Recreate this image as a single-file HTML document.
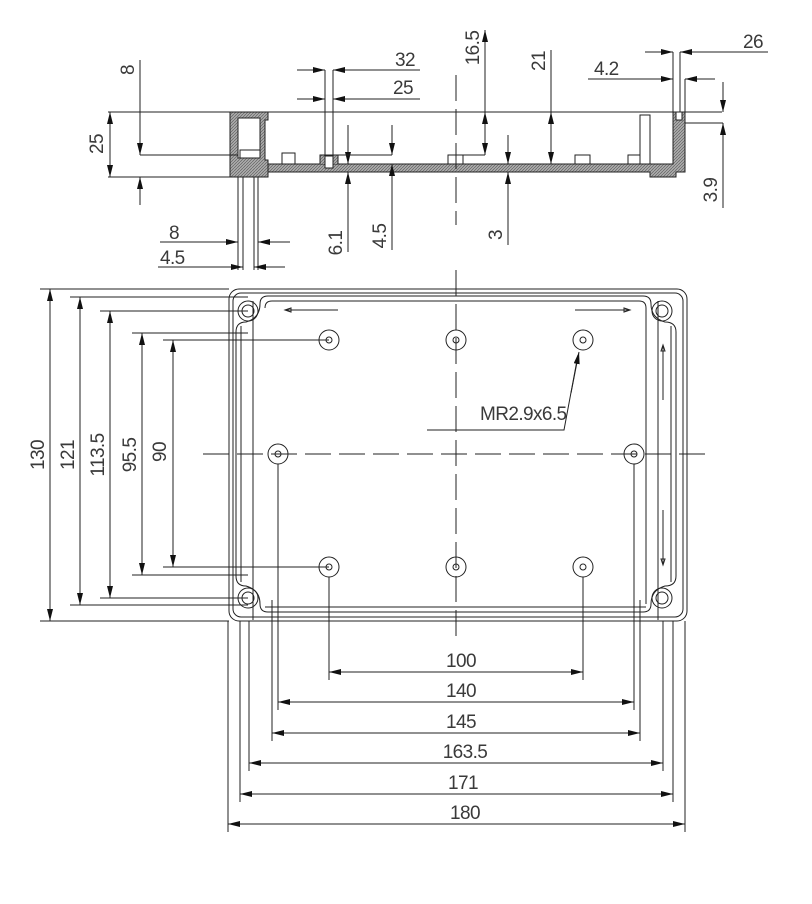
<!DOCTYPE html>
<html><head><style>
html,body{margin:0;padding:0;background:#fff;}
svg{display:block;}
text{font-family:"Liberation Sans",sans-serif;font-size:19px;fill:#3a3a3a;letter-spacing:-0.6px;}
</style></head><body>
<svg width="812" height="904" viewBox="0 0 812 904" xmlns="http://www.w3.org/2000/svg">
<defs>
<marker id="a" viewBox="0 0 12 6" refX="12" refY="3" markerWidth="12" markerHeight="6" markerUnits="userSpaceOnUse" orient="auto-start-reverse"><path d="M0,0 L12,3 L0,6 Z" fill="#111"/></marker>
<pattern id="h" width="3" height="3" patternUnits="userSpaceOnUse"><rect width="3" height="3" fill="#aaa"/><path d="M0,3 L3,0" stroke="#555" stroke-width="0.6"/></pattern>
</defs>
<g stroke="#222" stroke-width="1" fill="none">
<line x1="108" y1="112" x2="722" y2="112"/>
<line x1="108" y1="177" x2="230" y2="177"/>
<path d="M230,112 L268,112 L268,120 L265,120 L265,160 L268,160 L268,177 L230,177 Z" fill="url(#h)"/>
<rect x="238" y="118" width="22" height="40" fill="#fff"/>
<rect x="240" y="150" width="20" height="8" fill="#fff"/>
<path d="M268,164 L673,164 L673,112 L685,112 L685,172 L676,172 L676,177 L650,177 L650,172 L268,172 Z" fill="url(#h)"/>
<rect x="676" y="112" width="6" height="8" fill="#fff"/>
<rect x="282" y="153" width="13" height="11" fill="#fff"/>
<path d="M320,164 L320,155 L338,155 L338,164" fill="url(#h)"/>
<rect x="325" y="156" width="8" height="12" fill="#fff"/>
<rect x="448" y="155" width="15" height="9" fill="#fff"/>
<rect x="575" y="155" width="15" height="9" fill="#fff"/>
<rect x="628" y="155" width="12" height="9" fill="#fff"/>
<path d="M640,164 L640,115 L650,115 L650,164"/>
<line x1="238" y1="177" x2="238" y2="270"/><line x1="258" y1="177" x2="258" y2="270"/>
<line x1="243" y1="177" x2="243" y2="270"/><line x1="254" y1="177" x2="254" y2="270"/>
<line x1="110" y1="112" x2="110" y2="177" marker-start="url(#a)" marker-end="url(#a)"/>
<line x1="140" y1="60" x2="140" y2="155" marker-end="url(#a)"/>
<line x1="140" y1="205" x2="140" y2="177" marker-end="url(#a)"/>
<line x1="140" y1="155" x2="238" y2="155"/>
<line x1="160" y1="242" x2="238" y2="242" marker-end="url(#a)"/>
<line x1="290" y1="242" x2="258" y2="242" marker-end="url(#a)"/>
<line x1="158" y1="267" x2="243" y2="267" marker-end="url(#a)"/>
<line x1="285" y1="267" x2="254" y2="267" marker-end="url(#a)"/>
<line x1="325" y1="70" x2="325" y2="156"/><line x1="333" y1="70" x2="333" y2="156"/>
<line x1="297" y1="70" x2="325" y2="70" marker-end="url(#a)"/>
<line x1="420" y1="70" x2="333" y2="70" marker-end="url(#a)"/>
<line x1="297" y1="99" x2="325" y2="99" marker-end="url(#a)"/>
<line x1="420" y1="99" x2="333" y2="99" marker-end="url(#a)"/>
<line x1="348" y1="125" x2="348" y2="164" marker-end="url(#a)"/>
<line x1="348" y1="252" x2="348" y2="172" marker-end="url(#a)"/>
<line x1="392" y1="125" x2="392" y2="155" marker-end="url(#a)"/>
<line x1="392" y1="250" x2="392" y2="164" marker-end="url(#a)"/>
<line x1="338" y1="155" x2="392" y2="155"/>
<line x1="485" y1="30" x2="485" y2="155" marker-start="url(#a)"/>
<line x1="485" y1="112" x2="485" y2="155" marker-start="url(#a)" marker-end="url(#a)"/>
<line x1="463" y1="155" x2="485" y2="155"/>
<line x1="551" y1="50" x2="551" y2="164"/>
<line x1="551" y1="112" x2="551" y2="164" marker-start="url(#a)" marker-end="url(#a)"/>
<line x1="508" y1="135" x2="508" y2="164" marker-end="url(#a)"/>
<line x1="508" y1="245" x2="508" y2="172" marker-end="url(#a)"/>
<line x1="673" y1="52" x2="673" y2="112"/><line x1="680" y1="52" x2="680" y2="112"/><line x1="685" y1="79" x2="685" y2="112"/>
<line x1="645" y1="52" x2="673" y2="52" marker-end="url(#a)"/>
<line x1="768" y1="52" x2="680" y2="52" marker-end="url(#a)"/>
<line x1="588" y1="79" x2="673" y2="79" marker-end="url(#a)"/>
<line x1="715" y1="79" x2="685" y2="79" marker-end="url(#a)"/>
<line x1="685" y1="123" x2="723" y2="123"/>
<line x1="723" y1="82" x2="723" y2="112" marker-end="url(#a)"/>
<line x1="723" y1="208" x2="723" y2="123" marker-end="url(#a)"/>
<line x1="456" y1="75" x2="456" y2="225" stroke-dasharray="26,8"/>
<rect x="229" y="289" width="458" height="332" rx="10"/>
<rect x="233" y="293" width="450" height="324" rx="8"/>
<path d="M268,296 L643,296 Q651,296 651,304 Q651,318 665,322 Q676,322 676,332 L676,576 Q676,586 665,586 Q651,590 651,604 Q651,612 643,612 L268,612 Q260,612 260,604 Q260,590 246,586 Q236,586 236,576 L236,332 Q236,322 246,322 Q260,318 260,304 Q260,296 268,296 Z"/>
<path d="M272,301 L639,301 Q646,301 646,308 L646,604 M272,301 Q265,301 265,308 M241,326 L241,582 M671,326 L671,582 M265,607 L646,607"/>
<line x1="253" y1="301" x2="253" y2="620"/>
<line x1="658" y1="301" x2="658" y2="620"/>
<circle cx="248" cy="311" r="10"/><circle cx="248" cy="311" r="6"/>
<circle cx="662" cy="311" r="10"/><circle cx="662" cy="311" r="6"/>
<circle cx="248" cy="598" r="10"/><circle cx="248" cy="598" r="6"/>
<circle cx="662" cy="598" r="10"/><circle cx="662" cy="598" r="6"/>
<circle cx="329" cy="340" r="10"/><circle cx="329" cy="340" r="3"/>
<circle cx="456" cy="340" r="10"/><circle cx="456" cy="340" r="3"/>
<circle cx="583" cy="340" r="10"/><circle cx="583" cy="340" r="3"/>
<circle cx="278" cy="454" r="10"/><circle cx="278" cy="454" r="3"/>
<circle cx="634" cy="454" r="10"/><circle cx="634" cy="454" r="3"/>
<circle cx="329" cy="567" r="10"/><circle cx="329" cy="567" r="3"/>
<circle cx="456" cy="567" r="10"/><circle cx="456" cy="567" r="3"/>
<circle cx="583" cy="567" r="10"/><circle cx="583" cy="567" r="3"/>
<path d="M338,310 L285,310 M285,310 L291,308 L291,312 Z"/>
<path d="M575,310 L630,310 M630,310 L624,308 L624,312 Z"/>
<path d="M663,400 L663,345 M663,345 L661,351 L665,351 Z"/>
<path d="M663,510 L663,565 M663,565 L661,559 L665,559 Z"/>
<line x1="456" y1="270" x2="456" y2="640" stroke-dasharray="26,8"/>
<line x1="203" y1="454" x2="710" y2="454" stroke-dasharray="26,8"/>
<path d="M427,430 L564,430 L578,355" />
<line x1="571" y1="393" x2="579" y2="352" marker-end="url(#a)"/>
<line x1="40" y1="289" x2="229" y2="289"/><line x1="40" y1="621" x2="229" y2="621"/>
<line x1="70" y1="297" x2="248" y2="297"/><line x1="70" y1="605" x2="248" y2="605"/>
<line x1="100" y1="311" x2="248" y2="311"/><line x1="100" y1="598" x2="248" y2="598"/>
<line x1="132" y1="333" x2="248" y2="333"/><line x1="132" y1="575" x2="248" y2="575"/>
<line x1="163" y1="340" x2="329" y2="340"/><line x1="163" y1="567" x2="329" y2="567"/>
<line x1="50" y1="289" x2="50" y2="621" marker-start="url(#a)" marker-end="url(#a)"/>
<line x1="80" y1="297" x2="80" y2="605" marker-start="url(#a)" marker-end="url(#a)"/>
<line x1="110" y1="311" x2="110" y2="598" marker-start="url(#a)" marker-end="url(#a)"/>
<line x1="142" y1="333" x2="142" y2="575" marker-start="url(#a)" marker-end="url(#a)"/>
<line x1="173" y1="340" x2="173" y2="567" marker-start="url(#a)" marker-end="url(#a)"/>
<line x1="329" y1="577" x2="329" y2="680"/><line x1="583" y1="577" x2="583" y2="680"/>
<line x1="278" y1="464" x2="278" y2="710"/><line x1="634" y1="464" x2="634" y2="710"/>
<line x1="272" y1="600" x2="272" y2="741"/><line x1="640" y1="600" x2="640" y2="741"/>
<line x1="249" y1="621" x2="249" y2="771"/><line x1="663" y1="621" x2="663" y2="771"/>
<line x1="240" y1="621" x2="240" y2="802"/><line x1="673" y1="621" x2="673" y2="802"/>
<line x1="228" y1="621" x2="228" y2="832"/><line x1="685" y1="621" x2="685" y2="832"/>
<line x1="329" y1="672" x2="583" y2="672" marker-start="url(#a)" marker-end="url(#a)"/>
<line x1="278" y1="702" x2="634" y2="702" marker-start="url(#a)" marker-end="url(#a)"/>
<line x1="272" y1="733" x2="640" y2="733" marker-start="url(#a)" marker-end="url(#a)"/>
<line x1="249" y1="763" x2="663" y2="763" marker-start="url(#a)" marker-end="url(#a)"/>
<line x1="240" y1="794" x2="673" y2="794" marker-start="url(#a)" marker-end="url(#a)"/>
<line x1="228" y1="824" x2="685" y2="824" marker-start="url(#a)" marker-end="url(#a)"/>
</g>
<text x="395" y="66">32</text>
<text x="393" y="94">25</text>
<text x="169" y="239">8</text>
<text x="160" y="264">4.5</text>
<text x="743" y="48">26</text>
<text x="594" y="75">4.2</text>
<text x="480" y="420">MR2.9x6.5</text>
<g text-anchor="middle">
<text transform="translate(103,144) rotate(-90)">25</text>
<text transform="translate(134,70) rotate(-90)">8</text>
<text transform="translate(342,243) rotate(-90)">6.1</text>
<text transform="translate(386,236) rotate(-90)">4.5</text>
<text transform="translate(479,48) rotate(-90)">16.5</text>
<text transform="translate(545,61) rotate(-90)">21</text>
<text transform="translate(502,235) rotate(-90)">3</text>
<text transform="translate(717,190) rotate(-90)">3.9</text>
<text transform="translate(44,455) rotate(-90)">130</text>
<text transform="translate(74,455) rotate(-90)">121</text>
<text transform="translate(104,455) rotate(-90)">113.5</text>
<text transform="translate(136,455) rotate(-90)">95.5</text>
<text transform="translate(166,452) rotate(-90)">90</text>
<text x="461" y="667">100</text>
<text x="461" y="697">140</text>
<text x="461" y="728">145</text>
<text x="465" y="758">163.5</text>
<text x="463" y="789">171</text>
<text x="465" y="819">180</text>
</g>
</svg>
</body></html>
